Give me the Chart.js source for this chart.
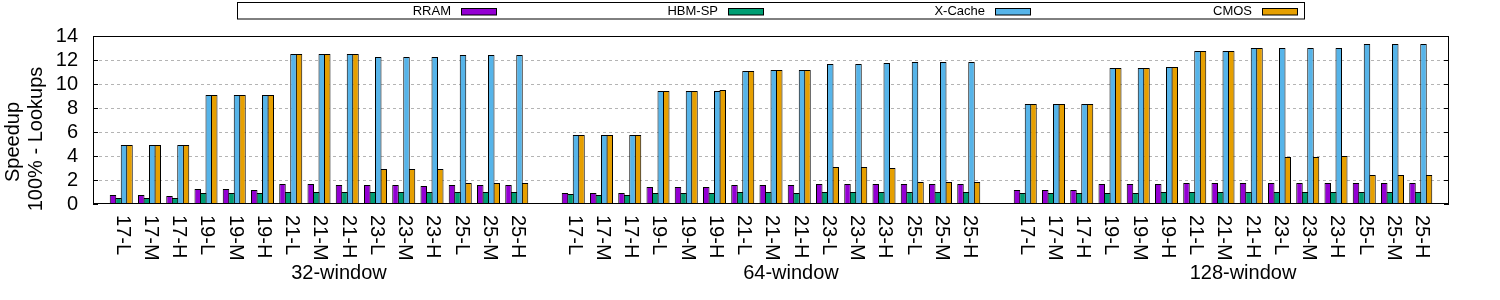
<!DOCTYPE html>
<html><head><meta charset="utf-8">
<script src="https://cdn.jsdelivr.net/npm/chart.js@4.4.1/dist/chart.umd.min.js"></script>
<style>html,body{margin:0;padding:0;background:#fff}</style>
</head><body>
<canvas id="c" width="1500" height="300" style="display:block"></canvas>
<script>
const groups = ['32-window', '64-window', '128-window'];
const categories = ['17-L','17-M','17-H','19-L','19-M','19-H','21-L','21-M','21-H','23-L','23-M','23-H','25-L','25-M','25-H'];
const seriesNames = ['RRAM', 'HBM-SP', 'X-Cache', 'CMOS'];
const seriesColors = ['#9400D3', '#009E73', '#56B4E9', '#E69F00'];
const yTicks = [0, 2, 4, 6, 8, 10, 12, 14];
const yTitle = ['Speedup', '100% - Lookups'];

const rram32  = [0.75,0.75,0.67,1.25,1.25,1.17,1.67,1.67,1.58,1.58,1.58,1.5,1.58,1.58,1.58];
const hbm32   = [0.5,0.5,0.5,0.92,0.92,0.92,1.0,1.0,1.0,1.0,1.0,1.0,1.0,1.0,1.0];
const xc32    = [4.92,4.92,4.92,9.08,9.08,9.08,12.5,12.5,12.5,12.25,12.25,12.25,12.42,12.42,12.42];
const cmos32  = [4.92,4.92,4.92,9.08,9.08,9.08,12.5,12.5,12.5,2.92,2.92,2.92,1.75,1.75,1.75];

const rram64  = [0.92,0.92,0.92,1.42,1.42,1.42,1.58,1.58,1.58,1.67,1.67,1.67,1.67,1.67,1.67];
const hbm64   = [0.83,0.75,0.75,0.92,0.92,0.92,1.0,1.0,0.92,1.0,1.0,1.0,1.0,1.0,1.0];
const xc64    = [5.75,5.75,5.75,9.42,9.42,9.42,11.08,11.17,11.17,11.67,11.67,11.75,11.83,11.83,11.83];
const cmos64  = [5.75,5.75,5.75,9.42,9.42,9.5,11.08,11.17,11.17,3.08,3.08,3.0,1.83,1.83,1.83];

const rram128 = [1.17,1.17,1.17,1.67,1.67,1.67,1.75,1.75,1.75,1.75,1.75,1.75,1.75,1.75,1.75];
const hbm128  = [0.92,0.92,0.92,0.92,0.92,1.0,1.0,1.0,1.0,1.0,1.0,1.0,1.0,1.0,1.0];
const xc128   = [8.33,8.33,8.33,11.33,11.33,11.42,12.75,12.75,13.0,13.0,13.0,13.0,13.33,13.33,13.33];
const cmos128 = [8.33,8.33,8.33,11.33,11.33,11.42,12.75,12.75,13.0,3.92,3.92,4.0,2.42,2.42,2.42];

const FONT = "'Liberation Sans', Arial, sans-serif";

function pad(a, b, c) { return [null, ...a, null, ...b, null, ...c, null]; }
const labels = ['', ...categories, '', ...categories, '', ...categories, ''];
const seriesData = [
  pad(rram32, rram64, rram128),
  pad(hbm32, hbm64, hbm128),
  pad(xc32, xc64, xc128),
  pad(cmos32, cmos64, cmos128)
];

const datasets = seriesNames.map((n, i) => ({
  label: n,
  data: seriesData[i],
  backgroundColor: seriesColors[i],
  borderColor: '#000',
  borderWidth: 1,
  borderSkipped: 'start',
  categoryPercentage: 0.779,
  barPercentage: 1.182
}));

const decor = {
  id: 'decor',
  afterDraw(chart) {
    const ctx = chart.ctx;
    const a = chart.chartArea;
    const xs = chart.scales.x, ys = chart.scales.y;
    ctx.save();
    // frame
    ctx.strokeStyle = '#000';
    ctx.lineWidth = 1;
    ctx.strokeRect(Math.round(a.left) + 0.5, Math.round(a.top) + 0.5,
                   Math.round(a.right - a.left) - 1, Math.round(a.bottom - a.top) - 1);
    // y tick marks (inward, mirrored)
    ctx.beginPath();
    yTicks.forEach(v => {
      const y = Math.round(ys.getPixelForValue(v)) + 0.5;
      ctx.moveTo(a.left, y); ctx.lineTo(a.left + 5, y);
      ctx.moveTo(a.right, y); ctx.lineTo(a.right - 5, y);
    });
    ctx.stroke();
    // x category labels rotated clockwise
    ctx.fillStyle = '#000';
    ctx.font = '20px ' + FONT;
    ctx.textAlign = 'left';
    ctx.textBaseline = 'middle';
    labels.forEach((l, i) => {
      if (!l) return;
      const x = xs.getPixelForValue(i);
      ctx.save();
      ctx.translate(x + 1, a.bottom + 11);
      ctx.rotate(Math.PI / 2);
      ctx.fillText(l, 0, 0);
      ctx.restore();
    });
    // group labels
    ctx.textAlign = 'center';
    groups.forEach((g, gi) => {
      const mid = 1 + gi * 16 + 7;
      ctx.fillText(g, xs.getPixelForValue(mid) + 20, 273);
    });
    // y title
    ctx.save();
    ctx.translate(13, 142);
    ctx.rotate(-Math.PI / 2);
    ctx.fillText(yTitle[0], 0, 0);
    ctx.restore();
    ctx.save();
    ctx.translate(36, 139);
    ctx.rotate(-Math.PI / 2);
    ctx.fillText(yTitle[1], 0, 0);
    ctx.restore();
    // legend
    ctx.lineWidth = 1;
    ctx.strokeRect(237.5, 2.5, 1067, 16.5);
    ctx.font = '13px ' + FONT;
    ctx.textAlign = 'right';
    chart.data.datasets.forEach((ds, i) => {
      const sr = 497 + i * 267;
      const sl = sr - 36;
      ctx.fillStyle = ds.backgroundColor;
      ctx.fillRect(sl, 8, 36, 7);
      ctx.strokeRect(sl + 0.5, 8.5, 35, 6.5);
      ctx.fillStyle = '#000';
      ctx.fillText(ds.label, sl - 10, 11);
    });
    ctx.restore();
  }
};

new Chart(document.getElementById('c'), {
  type: 'bar',
  data: { labels, datasets },
  options: {
    responsive: false,
    animation: false,
    devicePixelRatio: 1,
    layout: { padding: { top: 36, right: 51, left: 0, bottom: 0 } },
    plugins: { legend: { display: false }, tooltip: { enabled: false } },
    scales: {
      x: {
        offset: false,
        grid: { display: false, drawTicks: false },
        border: { display: false },
        ticks: { display: false },
        afterFit(s) { s.height = 96; }
      },
      y: {
        min: 0, max: 14,
        afterBuildTicks(s) { s.ticks = yTicks.map(v => ({ value: v })); },
        ticks: { stepSize: 2, autoSkip: false, padding: 15, color: '#000', font: { family: FONT, size: 20 } },
        grid: {
          drawTicks: false,
          lineWidth: 1,
          color: c => (c.tick && (c.tick.value === 0 || c.tick.value === 14)) ? 'rgba(0,0,0,0)' : '#b4b4b4'
        },
        border: { display: false, dash: [3, 3] },
        afterFit(s) { s.width = 93; }
      }
    }
  },
  plugins: [decor]
});
</script>
</body></html>
